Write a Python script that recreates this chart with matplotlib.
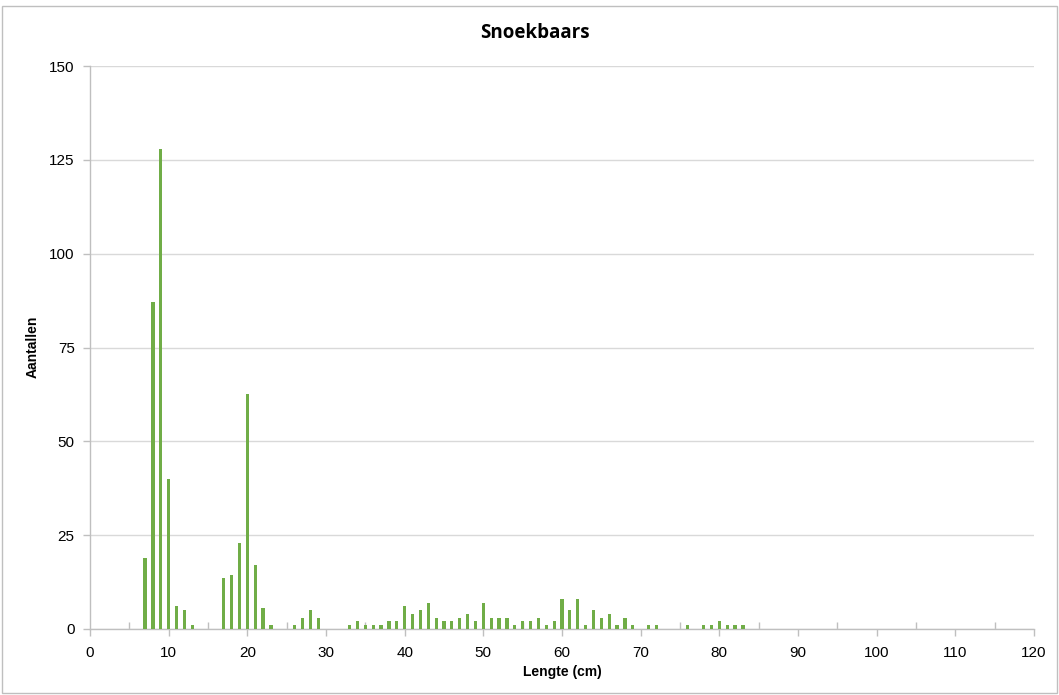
import numpy as np
import matplotlib.pyplot as plt
from matplotlib.ticker import MultipleLocator

# lengteklasse (cm) en aantallen
lengte = [7, 8, 9, 10, 11, 12, 13,
          17, 18, 19, 20, 21, 22, 23,
          26, 27, 28, 29,
          33, 34, 35, 36, 37, 38, 39, 40, 41, 42, 43, 44, 45, 46, 47, 48, 49,
          50, 51, 52, 53, 54, 55, 56, 57, 58, 59, 60, 61, 62, 63, 64, 65, 66,
          67, 68, 69, 71, 72, 76, 78, 79, 80, 81, 82, 83]
aantal = [19, 87, 128, 40, 6, 5, 1,
          13.5, 14.5, 23, 62.5, 17, 5.5, 1,
          1, 3, 5, 3,
          1, 2, 1, 1, 1, 2, 2, 6, 4, 5, 7, 3, 2, 2, 3, 4, 2,
          7, 3, 3, 3, 1, 2, 2, 3, 1, 2, 8, 5, 8, 1, 5, 3, 4,
          1, 3, 1, 1, 1, 1, 1, 1, 2, 1, 1, 1]

grijs = '#bfbfbf'

fig = plt.figure(figsize=(10.59, 6.95), dpi=100)
ax = fig.add_axes([90/1059, 1 - 629/695, 944/1059, 563/695])

ax.bar(lengte, aantal, width=0.4, color='#70ad47', zorder=3)

ax.set_xlim(0, 120)
ax.set_ylim(0, 150)
ax.xaxis.set_major_locator(MultipleLocator(10))
ax.xaxis.set_minor_locator(MultipleLocator(5))
ax.yaxis.set_major_locator(MultipleLocator(25))
ax.grid(axis='y', color='#d9d9d9', linewidth=1, zorder=0)

for s in ['top', 'right']:
    ax.spines[s].set_visible(False)
for s in ['left', 'bottom']:
    ax.spines[s].set_color(grijs)
    ax.spines[s].set_linewidth(1)

ax.tick_params(axis='both', which='major', color=grijs, length=5, width=1,
               labelsize=11, labelcolor='black')
ax.tick_params(axis='y', which='major', pad=6)
ax.tick_params(axis='x', which='major', pad=7)
ax.tick_params(axis='x', which='minor', direction='in', color=grijs, length=5, width=1)
for lab in ax.get_xticklabels() + ax.get_yticklabels():
    lab.set_fontfamily('Liberation Sans')

fig.text(535/1059, 1 - 33/695, 'Snoekbaars', fontsize=13.5, fontweight='bold',
         family='Open Sans', ha='center', va='center')
ax.set_xlabel('Lengte (cm)', fontsize=10, fontweight='bold', family='Liberation Sans')
ax.xaxis.set_label_coords(562/1059, 1 - 672/695, transform=fig.transFigure)
ax.xaxis.label.set_va('center')
ax.set_ylabel('Aantallen', fontsize=10, fontweight='bold', family='Liberation Sans')
ax.yaxis.set_label_coords(33/1059, 1 - 347/695, transform=fig.transFigure)
ax.yaxis.label.set_va('center')

# rand om de hele grafiek
fig.patches.append(plt.Rectangle((2/1059, 2/695), 1 - 4/1059, 1 - 8/695,
                                 transform=fig.transFigure, fill=False,
                                 edgecolor=grijs, linewidth=1))

fig.savefig('out.png', dpi=100)
